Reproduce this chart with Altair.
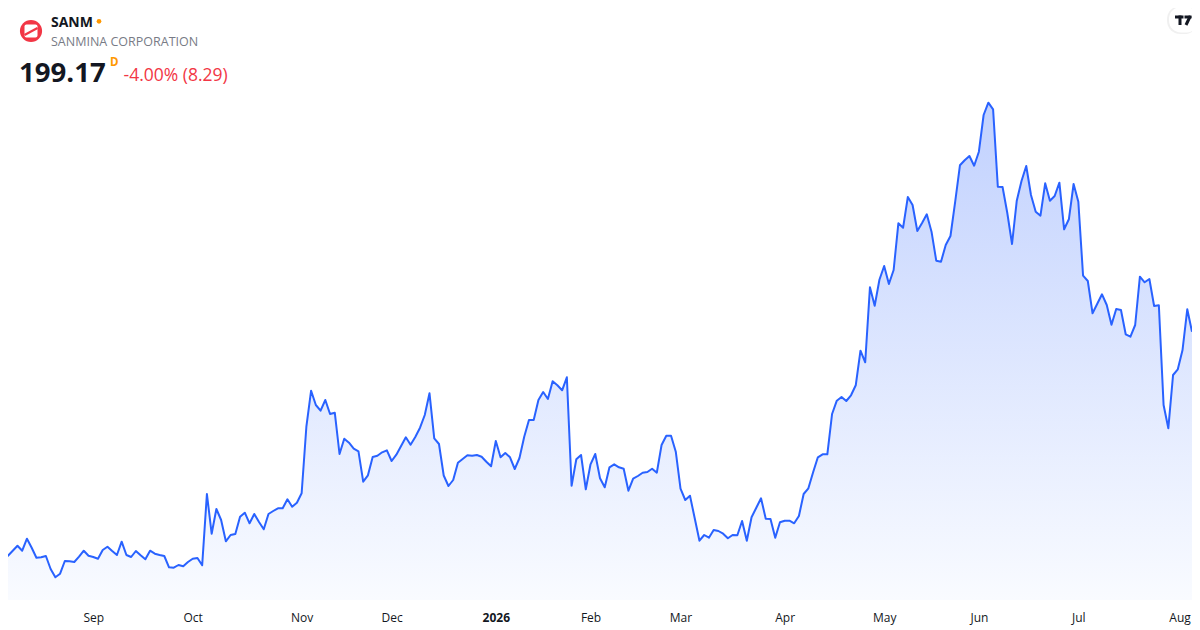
import altair as alt
import pandas as pd

# Daily closes (trading-day index 0..251)
prices = [
    115.92, 116.29, 118.14, 119.99, 118.14, 122.58, 119.25, 115.55, 115.70, 116.18,
    111.37, 108.30, 109.63, 114.33, 114.22, 113.96, 115.92, 118.14, 116.29, 115.81,
    115.18, 118.40, 119.62, 118.03, 116.55, 121.47, 116.55, 115.81, 118.03, 116.44,
    114.96, 118.14, 117.03, 116.55, 116.18, 112.00, 111.85, 112.85, 112.37, 113.96,
    115.18, 115.44, 112.74, 139.12, 124.43, 133.57, 129.50, 121.62, 123.95, 124.32,
    130.72, 132.20, 128.28, 131.72, 128.76, 126.06, 131.72, 132.83, 133.83, 133.83,
    137.16, 134.42, 135.90, 139.38, 164.02, 177.34, 172.05, 169.94, 173.90, 168.72,
    169.20, 153.92, 159.58, 158.10, 155.88, 154.92, 143.67, 146.04, 152.81, 153.29,
    154.55, 155.29, 151.33, 153.66, 156.88, 160.10, 157.36, 160.21, 163.65, 168.35,
    176.38, 159.73, 157.62, 145.96, 142.08, 144.30, 150.70, 152.07, 153.44, 153.29,
    153.55, 152.92, 151.07, 149.37, 158.73, 152.70, 154.29, 152.70, 148.37, 152.44,
    160.32, 166.50, 166.50, 173.90, 176.86, 174.27, 180.82, 179.34, 177.49, 182.30,
    142.19, 151.96, 153.55, 140.86, 150.11, 153.92, 144.93, 141.60, 149.00, 150.11,
    149.00, 148.48, 140.34, 144.78, 145.78, 147.00, 147.26, 148.48, 147.00, 157.25,
    160.69, 160.69, 154.77, 141.08, 136.90, 138.49, 130.13, 121.84, 123.95, 122.95,
    125.80, 125.43, 124.43, 122.73, 123.95, 123.84, 129.13, 121.84, 130.50, 134.05,
    137.53, 129.98, 129.87, 122.95, 128.65, 129.24, 129.24, 128.28, 130.98, 139.12,
    141.23, 147.15, 152.70, 153.81, 153.81, 168.72, 173.64, 175.01, 173.53, 175.64,
    179.34, 192.14, 187.85, 215.60, 208.79, 218.41, 223.48, 216.82, 222.00, 239.28,
    237.65, 249.01, 246.05, 236.43, 239.39, 242.61, 236.17, 225.44, 225.07, 231.25,
    234.58, 247.27, 260.74, 262.59, 264.18, 260.59, 265.77, 279.35, 283.90, 281.46,
    252.82, 252.71, 243.09, 231.62, 247.64, 254.93, 260.48, 249.75, 243.57, 242.09,
    254.08, 247.64, 249.38, 254.30, 237.06, 240.76, 253.82, 247.27, 219.89, 217.93,
    205.98, 209.53, 213.01, 209.05, 201.76, 207.57, 207.20, 198.21, 197.32, 201.65,
    219.52, 217.45, 218.67, 208.68, 208.94, 172.05, 163.43, 183.15, 185.26, 192.40,
    207.46, 199.17,
]

# Month ticks: trading-day index of each month's first session
tick_index = [19, 40, 63, 82, 104, 124, 143, 165, 186, 206, 227, 249]
tick_labels = ["Sep", "Oct", "Nov", "Dec", "2026", "Feb", "Mar", "Apr", "May", "Jun", "Jul", "Aug"]
bold_tick = 104
last_tick = 249

# visible price range of the pane
y_min, y_max = 99.9, 318.94

ticker = ["SANM"]
company = ["SANMINA CORPORATION"]
last_price = ["199.17"]
interval = ["D"]
change = ["-4.00% (8.29)"]

FONT = "Open Sans"
LINE = "#2962FF"
RED = "#F23645"
ORANGE = "#FF9800"
DARK = "#131722"
GRAY = "#787B86"

df = pd.DataFrame({"day": list(range(len(prices))), "close": prices})

label_expr = " : ".join(
    f"datum.value == {i} ? '{l}'" for i, l in zip(tick_index, tick_labels)
) + " : ''"

x_enc = alt.X(
    "day:Q",
    scale=alt.Scale(domain=[1, len(prices) - 1], nice=False, zero=False),
    axis=alt.Axis(
        values=tick_index,
        labelExpr=label_expr,
        grid=False,
        ticks=False,
        tickSize=0,
        domain=False,
        title=None,
        labelFont=FONT,
        labelFontSize=12,
        labelColor=DARK,
        labelPadding=12,
        labelFlush=False,
        labelOverlap=False,
        labelOffset={
            "condition": {"test": f"datum.value == {last_tick}", "value": -3},
            "value": 0,
        },
        labelFontWeight={
            "condition": {"test": f"datum.value == {bold_tick}", "value": "bold"},
            "value": "normal",
        },
    ),
)
y_enc = alt.Y(
    "close:Q",
    scale=alt.Scale(domain=[y_min, y_max], nice=False, zero=False),
    axis=None,
)

base = alt.Chart(df)

area = base.mark_area(
    clip=True,
    opacity=1,
    color=alt.Gradient(
        gradient="linear",
        stops=[
            alt.GradientStop(color="#c1d1fe", offset=0),
            alt.GradientStop(color="#f9fbff", offset=1),
        ],
        x1=1, x2=1, y1=0, y2=1,
    ),
).encode(x=x_enc, y=y_enc, y2=alt.datum(y_min))

line = base.mark_line(clip=True, color=LINE, strokeWidth=2, strokeJoin="round").encode(
    x="day:Q", y="close:Q"
)

one = pd.DataFrame({"k": [0]})

# header logo
logo_circle = alt.Chart(one).mark_point(
    filled=True, shape="circle", size=490, color=RED, opacity=1
).encode(x=alt.value(23), y=alt.value(23))
logo_square = alt.Chart(one).mark_rect(color="white", cornerRadius=2).encode(
    x=alt.value(16.5), x2=alt.value(29.5), y=alt.value(16.5), y2=alt.value(29.5)
)
logo_slash = alt.Chart(one).mark_rule(color=RED, strokeWidth=2.2).encode(
    x=alt.value(16.5), x2=alt.value(29.5), y=alt.value(27), y2=alt.value(20)
)

def text_layer(values, x, y, size, color, weight="normal", baseline="alphabetic"):
    return alt.Chart(pd.DataFrame({"t": values})).mark_text(
        font=FONT, fontSize=size, color=color, fontWeight=weight,
        align="left", baseline=baseline,
    ).encode(text="t:N", x=alt.value(x), y=alt.value(y))

t_ticker = text_layer(ticker, 43, 18.7, 14, DARK, "bold")
dot = alt.Chart(one).mark_point(filled=True, shape="circle", size=22, color=ORANGE, opacity=1).encode(
    x=alt.value(91), y=alt.value(13.3)
)
t_company = text_layer(company, 43, 37.5, 12.5, GRAY)
t_price = text_layer(last_price, 11, 74, 27.6, DARK, "bold")
t_interval = text_layer(interval, 102, 57.5, 11.5, ORANGE, "bold")
t_change = text_layer(change, 115.5, 73, 17.5, RED)

# TradingView badge (top right)
badge_shadow = alt.Chart(one).mark_rect(color="#000000", opacity=0.06, cornerRadius=13).encode(
    x=alt.value(1159), x2=alt.value(1190), y=alt.value(-2), y2=alt.value(26)
)
badge = alt.Chart(one).mark_rect(color="white", cornerRadius=12).encode(
    x=alt.value(1161), x2=alt.value(1190), y=alt.value(-1), y2=alt.value(24.5)
)
tv_bar = alt.Chart(one).mark_rect(color=DARK).encode(
    x=alt.value(1167), x2=alt.value(1175.5), y=alt.value(7.5), y2=alt.value(10.5)
)
tv_stem = alt.Chart(one).mark_rect(color=DARK).encode(
    x=alt.value(1170.5), x2=alt.value(1173.5), y=alt.value(7.5), y2=alt.value(17)
)
tv_bar2 = alt.Chart(one).mark_rect(color=DARK).encode(
    x=alt.value(1176.5), x2=alt.value(1183.5), y=alt.value(7.5), y2=alt.value(10.5)
)
tv_diag = alt.Chart(one).mark_rule(color=DARK, strokeWidth=3).encode(
    x=alt.value(1182.3), x2=alt.value(1178), y=alt.value(8), y2=alt.value(17)
)

chart = alt.layer(
    area, line,
    logo_circle, logo_square, logo_slash,
    t_ticker, dot, t_company, t_price, t_interval, t_change,
    badge_shadow, badge, tv_bar, tv_stem, tv_bar2, tv_diag,
).properties(
    width=1184,
    height=592,
    padding={"left": 0, "right": 0, "top": 0, "bottom": 28},
    autosize=alt.AutoSizeParams(type="none"),
    background="white",
).configure_view(stroke=None)

chart.save("out.html", embed_options={"renderer": "svg", "actions": False})
